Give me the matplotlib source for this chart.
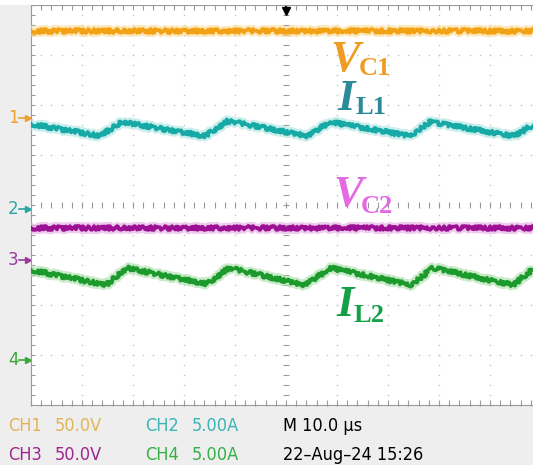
import numpy as np
import matplotlib.pyplot as plt
import matplotlib.patheffects as pe
import matplotlib.transforms as mtransforms
from matplotlib.patches import Rectangle

# scope settings: 10 us/div, 8 vertical divisions
t_div = 10.0
ch_scale = [50.0, 5.0, 50.0, 5.0]          # V/div or A/div
ch_offset = [1.74, -0.08, -1.10, -3.10]    # ground markers, in divisions
ch_names = ["CH1", "CH2", "CH3", "CH4"]
ch_units = ["50.0V", "5.00A", "50.0V", "5.00A"]

# CH1: V_C1 (V)
t_vc1 = [0.0, 98.4]
vc1 = [87.0, 87.0]
# CH2: I_L1 (A)
t_il1 = [0.0, 13.5, 17.8, 34.1, 38.6, 54.3, 58.6, 74.3, 78.2, 94.7, 98.4]
il1 = [8.5, 7.3, 8.7, 7.3, 8.8, 7.3, 8.7, 7.3, 8.7, 7.3, 8.4]
# CH3: V_C2 (V)
t_vc2 = [0.0, 98.4]
vc2 = [32.0, 32.0]
# CH4: I_L2 (A)
t_il2 = [0.0, 14.7, 18.8, 34.5, 38.8, 53.7, 58.8, 74.5, 78.8, 94.5, 98.4]
il2 = [9.0, 7.5, 9.2, 7.6, 9.2, 7.5, 9.2, 7.5, 9.2, 7.5, 9.1]

W, H = 533, 465
def fx(x):
    return x / W
def fy(y):
    return 1 - y / H

fig = plt.figure(figsize=(W / 100, H / 100), dpi=100, facecolor="#eeeeee")
fig.patches.append(Rectangle((0, fy(5)), 1, 5 / H, transform=fig.transFigure,
                             facecolor="white", edgecolor="none", zorder=0))
ax = fig.add_axes([fx(31), fy(405), fx(533) - fx(31), fy(5) - fy(405)])
ax.set_facecolor("white")
ax.set_xlim(0, 98.43)
ax.set_ylim(-4, 4)
ax.set_xticks([])
ax.set_yticks([])
ax.spines["right"].set_visible(False)
for s in ["top", "bottom", "left"]:
    ax.spines[s].set_color("#9a9a9a")
    ax.spines[s].set_linewidth(0.8)

# dotted graticule
grid_c = "#c4c4c4"
xs_minor = np.arange(0, 100.1, 2.0)
ys_minor = np.arange(-4, 4.01, 0.2)
for k in range(1, 10):
    if k == 5:
        continue
    ax.plot(np.full_like(ys_minor, k * t_div), ys_minor, ls="none", marker="s",
            ms=1.0, color=grid_c, mew=0)
for k in range(-3, 4):
    if k == 0:
        continue
    ax.plot(xs_minor, np.full_like(xs_minor, k), ls="none", marker="s",
            ms=1.0, color=grid_c, mew=0)

# centre lines and border rulers
tick_c = "#9a9a9a"
ax.plot(xs_minor, np.zeros_like(xs_minor), ls="none", marker="|", ms=4,
        color=tick_c, mew=0.8)
ax.plot(np.full_like(ys_minor, 50.0), ys_minor, ls="none", marker="_", ms=4,
        color=tick_c, mew=0.8)
ax.plot(xs_minor, np.full_like(xs_minor, 3.96), ls="none", marker="|", ms=4,
        color=tick_c, mew=0.8, clip_on=False)
ax.plot(xs_minor, np.full_like(xs_minor, -3.96), ls="none", marker="|", ms=4,
        color=tick_c, mew=0.8, clip_on=False)
ax.plot(np.full_like(ys_minor, 0.25), ys_minor, ls="none", marker="_", ms=4,
        color=tick_c, mew=0.8)

# trigger position
ax.plot([50.0, 50.0], [4.16, 3.88], color="black", lw=1.4, clip_on=False)
ax.plot([50.0], [3.88], marker="v", ms=6, color="black", clip_on=False)

# traces
traces = [
    (t_vc1, vc1, "#f2a014", "#fbd98c"),
    (t_il1, il1, "#17a9a5", "#a8e3e0"),
    (t_vc2, vc2, "#9c1094", "#e4a8e0"),
    (t_il2, il2, "#1c9a2c", "#a8dca8"),
]
for i, (t, v, c, glow) in enumerate(traces):
    y = np.array(v) / ch_scale[i] + ch_offset[i]
    ln, = ax.plot(t, y, color=c, lw=2.6, zorder=5,
                  path_effects=[pe.Stroke(linewidth=6, foreground=glow, alpha=0.6),
                                pe.Normal()])
    ln.set_sketch_params(scale=2.0, length=1.6, randomness=5)

# channel ground markers
mark_c = ["#f0a030", "#2aa5a8", "#9a3a9a", "#3aa63a"]
trans = mtransforms.blended_transform_factory(fig.transFigure, ax.transData)
for i in range(4):
    ax.text(fx(8), ch_offset[i], str(i + 1), transform=trans, color=mark_c[i],
            fontsize=12, va="center", ha="left", family="DejaVu Sans")
    ax.plot([fx(19), fx(29)], [ch_offset[i]] * 2, transform=trans,
            color=mark_c[i], lw=1.2, clip_on=False)
    ax.plot([fx(28)], [ch_offset[i]], transform=trans, marker=">", ms=5,
            color=mark_c[i], clip_on=False)

# trace labels
serif = "Liberation Serif"
def label(x, y, main, sub, xs, ys, color):
    fig.text(fx(x), fy(y), main, color=color, fontsize=32, family=serif,
             weight="bold", style="italic", va="baseline", ha="left")
    fig.text(fx(xs), fy(ys), sub, color=color, fontsize=19, family=serif,
             weight="bold", va="baseline", ha="left")

label(330, 71, "V", "C1", 359, 75, "#ee9c22")
label(337, 110, "I", "L1", 355, 114, "#2a8a98")
label(333, 206, "V", "C2", 361, 213, "#e46ae4")
label(336, 316, "I", "L2", 354, 322, "#14a046")

# status lines
narrow = "DejaVu Sans"
stat_c = ["#e2b458", "#3ab4b4", "#a0248e", "#34b044"]
rows = [431, 460]
for i in range(4):
    col = i % 2
    row = i // 2
    x0 = 8 if col == 0 else 145
    fig.text(fx(x0), fy(rows[row]), ch_names[i], color=stat_c[i], fontsize=13,
             family=narrow, stretch="condensed", va="baseline")
    fig.text(fx(x0 + 47), fy(rows[row]), ch_units[i], color=stat_c[i], fontsize=13,
             family=narrow, stretch="condensed", va="baseline")
fig.text(fx(283), fy(rows[0]), "M 10.0 \u00b5s", color="black", fontsize=13,
         family=narrow, stretch="condensed", va="baseline")
fig.text(fx(283), fy(rows[1]), "22\u2013Aug\u201324 15:26", color="black", fontsize=13,
         family=narrow, stretch="condensed", va="baseline")

fig.savefig("out.png", dpi=100, facecolor=fig.get_facecolor())
